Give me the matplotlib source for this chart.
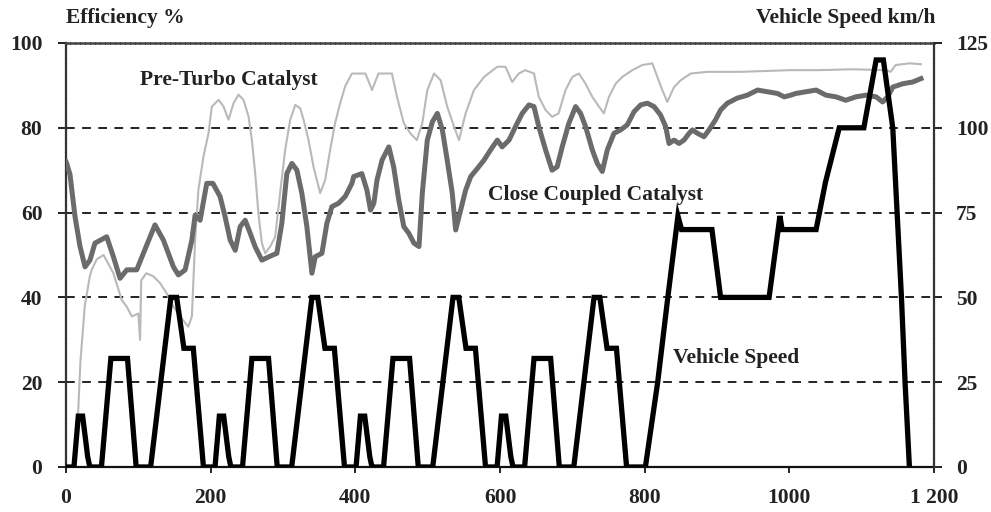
import matplotlib
matplotlib.use("Agg")
import matplotlib.pyplot as plt

# ---------------- data ----------------
# Close coupled catalyst efficiency (%)
cc_t = [0, 1, 5.5, 12.5, 19.4, 26.3, 33.2, 40, 56.3, 65.5, 74.7, 84, 97.8, 107, 123, 134.7,
        148.5, 155.4, 164.7, 174, 178.5, 185.4, 194.6, 203, 213, 220, 227, 234, 240.8, 247.7,
        254.7, 261.6, 270.8, 284.6, 291.5, 298.4, 305.3, 312.3, 319.2, 326, 333, 340, 344.6,
        353.8, 360.7, 367.6, 376.8, 386, 395.3, 397.7, 409, 416, 421, 425.6, 430, 437, 446.3,
        453, 460, 467, 474, 481, 488, 492.6, 499.5, 506.5, 513.4, 520.3, 527, 534, 538.7,
        545.6, 552.5, 559.5, 568.7, 578, 587, 596.3, 603, 612.5, 621.5, 630.7, 640, 647,
        653.6, 663, 672, 679, 686, 695.3, 704.5, 711.4, 718.3, 727.6, 734.5, 741.4, 748.4,
        757.6, 766.8, 776, 785.3, 794.5, 803.7, 813, 822, 829, 833.7, 840.6, 847.5, 854.4,
        861.4, 866, 873, 882, 889, 898, 905, 914.3, 928, 942, 956, 970, 983.5, 993, 1002,
        1009, 1023, 1037, 1050.6, 1064.5, 1078, 1092, 1106, 1120, 1129, 1136, 1143, 1157,
        1170.6, 1182]
cc_eff = [72, 71.6, 69, 59, 52, 47.2, 48.8, 52.8, 54.3, 49.6, 44.5, 46.5, 46.5, 50.4, 57.1, 53.5,
          47.2, 45.3, 46.5, 53.5, 59.4, 58.2, 66.9, 66.9, 63.8, 59, 53.5, 51.1, 56.7, 58.2,
          55.1, 51.9, 48.8, 49.9, 50.4, 57.5, 69.2, 71.6, 70, 64.6, 56.7, 45.7, 49.6,
          50.4, 57.5, 61.4, 62.2, 63.8, 66.9, 68.5, 69.2, 65.3, 60.6, 62.2, 67.7, 72.4, 75.5,
          70.8, 63, 56.7, 55.1, 52.8, 52, 64.6, 77.1, 81.4, 83.4, 79.5, 72.4, 64.6, 55.9,
          60.6, 65.3, 68.5, 70.4, 72.4, 74.8, 77.1, 75.5, 77.1, 80.3, 83.4, 85.4, 85,
          80.3, 74.8, 70, 70.8, 75.5, 81.1, 85, 83.4, 80.3, 74.8, 71.6, 69.7, 74.8,
          78.7, 79.5, 80.7, 83.8, 85.4, 85.8, 85, 83, 80.3, 76.3, 77.1, 76.3, 77.1,
          78.7, 79.5, 78.7, 77.9, 79.5, 81.9, 84.2, 85.8, 87, 87.7, 88.9, 88.5, 88.1, 87.3, 87.7,
          88.1, 88.5, 88.9, 87.7, 87.3, 86.5, 87.3, 87.7, 87.3, 86.1, 87.3, 89.6, 90.4,
          90.8, 91.6]

# Pre-turbo catalyst efficiency (%)
pt_t = [12.5, 16, 20, 26, 33, 35.5, 42.5, 52, 65.5, 77, 84, 91, 100, 102.4, 104, 111, 120.5, 130,
        139, 148.5, 157.7, 169, 174, 178.5, 183, 190, 197, 201.6, 211, 217.8, 224.7, 231.6,
        238.5, 245.4, 252.3, 257, 261.6, 266, 270.8, 275.4, 282.3, 289.2, 296, 303, 310, 317,
        323.8, 328.4, 335.3, 342.2, 351.4, 358.3, 365.2, 372, 379, 386, 395.3, 402, 414, 423,
        432, 450.6, 457.6, 467, 476, 485, 492.6, 499.5, 508.8, 518, 527, 536.4, 543.3, 552.5,
        564, 578, 596.3, 607.6, 616.8, 626, 635, 647, 653.6, 663, 672, 681, 690.6, 700, 709,
        718.3, 727.6, 736.8, 743.7, 750.6, 759.9, 769, 783, 796.7, 810.6, 817.5, 824.4, 831.3,
        840.6, 849.8, 863.6, 886.6, 932.8, 1002, 1041, 1087, 1133.5, 1140, 1147, 1166, 1182]
pt_eff = [1.5, 10, 25, 38, 45, 46.5, 49, 50, 45.7, 39.4, 37.8, 35.5, 36.2, 30, 44, 45.7, 45, 43.4,
          41, 37.8, 35.5, 33.1, 35.5, 53.5, 65.3, 73.2, 78.7, 85, 86.6, 85, 81.9, 85.8,
          87.8, 86.6, 82.7, 77.1, 69.2, 59.8, 52.8, 50.4, 52, 54.3, 64.6, 74.8, 81.9, 85.4,
          84.6, 81.9, 77.1, 70.8, 64.6, 67.7, 74.8, 81.1, 85.8, 89.8, 92.8, 92.8, 92.8, 88.9,
          92.8, 92.8, 87.3, 81.1, 78.7, 77.1, 81.1, 88.9, 92.8, 91.2, 85, 80.3, 77.1, 83.4,
          88.9, 92, 94.4, 94.4, 90.8, 92.8, 93.6, 92.8, 87.3, 84.2, 82.6, 83.4, 88.9, 92, 92.8,
          90.4, 87.3, 85, 83.4, 87.3, 90.4, 92, 93.6, 94.8, 95.2, 92, 88.9, 86.1,
          89.6, 91.2, 92.8, 93.2, 93.2, 93.6, 93.6, 93.8, 93.6, 93.2, 94.8, 95.2, 95]

# Vehicle speed (km/h)
sp_t = [0, 11, 17, 23, 30, 33, 49, 62, 85, 97, 117, 145, 153, 163, 176, 190,
        206, 212, 218, 225, 228, 244, 257, 280, 292, 312, 340, 348, 358, 371, 385,
        401, 407, 413, 420, 423, 439, 452, 475, 487, 507, 535, 543, 553, 566, 580,
        596, 602, 608, 615, 618, 634, 647, 670, 682, 702, 730, 738, 748, 761, 775,
        801, 818, 832, 846, 851, 893, 905, 972, 987, 990, 1037, 1050, 1069, 1103,
        1120, 1130, 1143, 1155, 1160, 1166]
sp_kmh = [0, 0, 15, 15, 3, 0, 0, 32, 32, 0, 0, 50, 50, 35, 35, 0,
          0, 15, 15, 3, 0, 0, 32, 32, 0, 0, 50, 50, 35, 35, 0,
          0, 15, 15, 3, 0, 0, 32, 32, 0, 0, 50, 50, 35, 35, 0,
          0, 15, 15, 3, 0, 0, 32, 32, 0, 0, 50, 50, 35, 35, 0,
          0, 25, 50, 74, 70, 70, 50, 50, 74, 70, 70, 84, 100, 100,
          120, 120, 100, 50, 25, 0]

x_ticks = [0, 200, 400, 600, 800, 1000, 1200]
x_tick_labels = ["0", "200", "400", "600", "800", "1000", "1 200"]
eff_ticks = [0, 20, 40, 60, 80, 100]
spd_ticks = [0, 25, 50, 75, 100, 125]

# ---------------- figure ----------------
FONT = "Liberation Serif"
fs = 15.5
plt.rcParams["font.family"] = FONT
plt.rcParams["font.weight"] = "bold"

fig = plt.figure(figsize=(9.91, 5.12), dpi=100)
ax = fig.add_axes([66 / 991, 1 - 467 / 512, (934 - 66) / 991, (467 - 43) / 512])
ax2 = ax.twinx()

ax.set_xlim(0, 1200)
ax.set_ylim(0, 100)
ax2.set_ylim(0, 125)

# dashed horizontal grid
for v in [20, 40, 60, 80]:
    ax.axhline(v, color="#222222", lw=1.4, ls=(0, (4.5, 3.8)), zorder=1)
ax.axhline(100, color="#333333", lw=1.2, ls=(0, (4.5, 3.8)), zorder=1)

ax.plot(pt_t, pt_eff, color="#b9b9b9", lw=1.5, zorder=2, solid_joinstyle="round")
ax.plot(cc_t, cc_eff, color="#6b6b6b", lw=3.6, zorder=3, solid_joinstyle="round")
ax2.plot(sp_t, sp_kmh, color="#000000", lw=3.8, zorder=4, solid_joinstyle="miter")

# spines
for a in (ax, ax2):
    for s in a.spines.values():
        s.set_visible(False)
ax.spines["bottom"].set_visible(True)
ax.spines["bottom"].set_color("#111111")
ax.spines["bottom"].set_linewidth(1.6)
ax.spines["left"].set_visible(True)
ax.spines["left"].set_linestyle((0, (1.2, 0.8)))
ax.spines["left"].set_linewidth(1.6)
ax.spines["left"].set_color("#333333")
ax.spines["top"].set_visible(True)
ax.spines["top"].set_linestyle((0, (1.2, 0.8)))
ax.spines["top"].set_linewidth(1.8)
ax.spines["top"].set_color("#444444")
ax2.spines["right"].set_visible(True)
ax2.spines["right"].set_linestyle((0, (1.2, 0.8)))
ax2.spines["right"].set_linewidth(1.6)
ax2.spines["right"].set_color("#333333")

ax.set_xticks(x_ticks)
ax.set_xticklabels(x_tick_labels)
ax.set_yticks(eff_ticks)
ax2.set_yticks(spd_ticks)
ax.tick_params(axis="both", direction="out", length=6, width=1.4, color="#222222",
               labelsize=fs, pad=11)
ax.tick_params(axis="x", length=4, pad=11)
ax2.tick_params(axis="y", direction="out", length=6, width=1.4, color="#222222",
                labelsize=fs, pad=10)
for lab in ax.get_xticklabels() + ax.get_yticklabels() + ax2.get_yticklabels():
    lab.set_fontweight("bold")
    lab.set_color("#222222")

# texts
fig.text(66 / 991, 1 - 18 / 512, "Efficiency %", fontsize=fs, fontweight="bold",
         ha="left", va="center", color="#222222")
fig.text(935 / 991, 1 - 18 / 512, "Vehicle Speed km/h", fontsize=fs, fontweight="bold",
         ha="right", va="center", color="#222222")
ax.text(102, 91.3, "Pre-Turbo Catalyst", fontsize=fs, fontweight="bold",
        ha="left", va="center", color="#222222", zorder=6)
ax.text(584, 64.2, "Close Coupled Catalyst", fontsize=fs, fontweight="bold",
        ha="left", va="center", color="#222222", zorder=6)
ax.text(839, 25.7, "Vehicle Speed", fontsize=fs, fontweight="bold",
        ha="left", va="center", color="#222222", zorder=6)

fig.savefig("out.png", dpi=100)
